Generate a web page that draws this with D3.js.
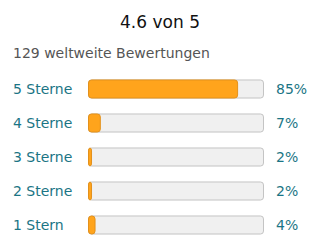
<!DOCTYPE html>
<html>
<head>
  <meta charset="utf-8">
  <script src="https://cdn.jsdelivr.net/npm/d3@7"></script>
  <style>
    body { margin: 0; background: #fff; }
    svg { font-family: "DejaVu Sans", sans-serif; }
  </style>
</head>
<body>
<div id="chart"></div>
<script>
  // rating breakdown
  var labels = ["5 Sterne", "4 Sterne", "3 Sterne", "2 Sterne", "1 Stern"];
  var percents = [85, 7, 2, 2, 4];
  var title = "4.6 von 5";
  var subtitle = "129 weltweite Bewertungen";

  var width = 320, height = 252;

  var svg = d3.select("#chart").append("svg")
    .attr("width", width)
    .attr("height", height);

  svg.append("text")
    .attr("x", 160).attr("y", 28)
    .attr("text-anchor", "middle")
    .attr("font-size", 17)
    .attr("fill", "#111")
    .text(title);

  svg.append("text")
    .attr("x", 13).attr("y", 58)
    .attr("font-size", 14)
    .attr("fill", "#555")
    .text(subtitle);

  var x = d3.scaleLinear().domain([0, 100]).range([88, 264]);
  var y = d3.scaleBand().domain(labels).range([72, 242]).paddingInner(0.44).paddingOuter(0.22);

  var rows = svg.selectAll(".row")
    .data(labels)
    .enter().append("g")
    .attr("class", "row");

  rows.append("rect")
    .attr("x", x(0) + 0.5)
    .attr("y", function(d) { return y(d) + 0.5; })
    .attr("width", x(100) - x(0) - 1)
    .attr("height", y.bandwidth() - 1)
    .attr("rx", 3)
    .attr("fill", "#f0f0f0")
    .attr("stroke", "#c4c4c4");

  rows.append("rect")
    .attr("x", x(0) + 0.5)
    .attr("y", function(d) { return y(d) + 0.5; })
    .attr("width", function(d, i) { return x(percents[i]) - x(0) - 0.5; })
    .attr("height", y.bandwidth() - 1)
    .attr("rx", 3)
    .attr("fill", "#ffa41c")
    .attr("stroke", "#e3911c");

  rows.append("text")
    .attr("x", 13)
    .attr("y", function(d) { return y(d) + y.bandwidth() / 2; })
    .attr("dy", "0.35em")
    .attr("font-size", 14)
    .attr("fill", "#1b7585")
    .text(function(d) { return d; });

  rows.append("text")
    .attr("x", 276)
    .attr("y", function(d) { return y(d) + y.bandwidth() / 2; })
    .attr("dy", "0.35em")
    .attr("font-size", 14)
    .attr("fill", "#1b7585")
    .text(function(d, i) { return percents[i] + "%"; });
</script>
</body>
</html>
